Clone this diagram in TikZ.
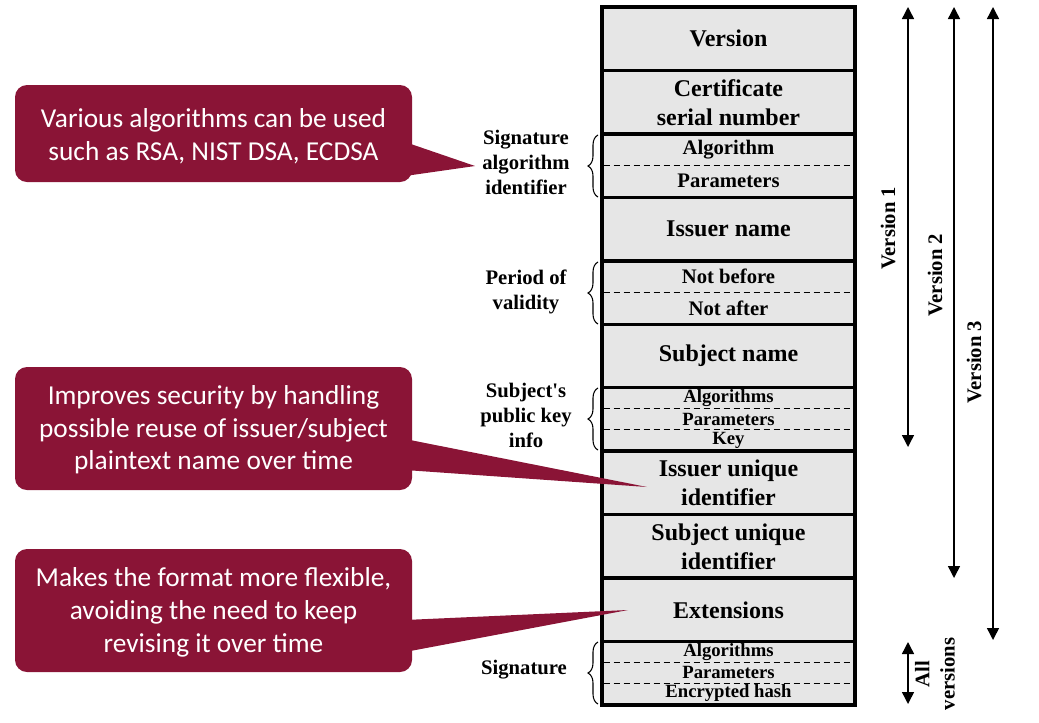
\documentclass[tikz,border=0pt]{standalone}
\usepackage{fontspec}
\setmainfont{Liberation Serif}
\newfontfamily\calloutfont{Carlito}
\usetikzlibrary{arrows.meta,decorations.pathreplacing}
\definecolor{tablegray}{RGB}{230,230,230}
\definecolor{calloutred}{RGB}{138,20,54}
\begin{document}
\begin{tikzpicture}[x=0.75pt,y=-0.75pt,
  rowbox/.style={draw, line width=2.6pt, fill=tablegray, minimum width=189.75pt, minimum height=47.6pt, inner sep=0pt, align=center, font=\bfseries\fontsize{18}{21.75}\selectfont},
  subtxt/.style={inner sep=0pt, font=\bfseries\fontsize{15.5}{17}\selectfont},
  smalltxt/.style={inner sep=0pt, font=\bfseries\fontsize{14}{15}\selectfont},
  sidelabel/.style={align=center, inner sep=0pt, font=\bfseries\fontsize{15.5}{18.75}\selectfont},
  sepline/.style={line width=0.8pt, dash pattern=on 4.5pt off 3pt},
  bracestyle/.style={decorate, decoration={brace, amplitude=7.5pt}, line width=0.8pt},
  callout/.style={fill=calloutred, rounded corners=9pt, minimum width=297.75pt, text=white, align=center, inner sep=0pt, font=\calloutfont\fontsize{20.5}{24.5}\selectfont},
  wedge/.style={fill=calloutred},
  verarrow/.style={{Triangle[length=9pt,width=9pt]}-{Triangle[length=9pt,width=9pt]}, line width=1.1pt},
  verlabel/.style={rotate=90, inner sep=0pt, align=center, font=\bfseries\fontsize{15.5}{19}\selectfont}
]
\useasboundingbox (0,0) rectangle (1039,722);

% table rows
\node[rowbox] (r1) at (728.5,38.7) {Version};
\node[rowbox] (r2) at (728.5,102.2) {Certificate\\serial number};
\node[rowbox] (r3) at (728.5,165.6) {};
\node[rowbox] (r4) at (728.5,229.1) {Issuer name};
\node[rowbox] (r5) at (728.5,292.5) {};
\node[rowbox] (r6) at (728.5,356.0) {Subject name};
\node[rowbox] (r7) at (728.5,419.4) {};
\node[rowbox] (r8) at (728.5,482.9) {Issuer unique\\identifier};
\node[rowbox] (r9) at (728.5,546.3) {Subject unique\\identifier};
\node[rowbox] (r10) at (728.5,609.8) {Extensions};
\node[rowbox] (r11) at (728.5,673.2) {};

% sub-rows
\draw[sepline] (603.5,165.6) -- (853.5,165.6);
\node[subtxt] (t3a) at (728.5,150) {Algorithm};
\node[subtxt] (t3b) at (728.5,181) {Parameters};

\draw[sepline] (603.5,292.5) -- (853.5,292.5);
\node[subtxt] (t5a) at (728.5,276) {Not before};
\node[subtxt] (t5b) at (728.5,308) {Not after};

\draw[sepline] (603.5,408.2) -- (853.5,408.2);
\draw[sepline] (603.5,429.4) -- (853.5,429.4);
\node[smalltxt] (t7a) at (728.5,398) {Algorithms};
\node[smalltxt] (t7b) at (728.5,419) {Parameters};
\node[smalltxt] (t7c) at (728.5,440) {Key};

\draw[sepline] (603.5,662.4) -- (853.5,662.4);
\node[smalltxt] (t11a) at (728.5,652) {Algorithms};
\node[smalltxt] (t11b) at (728.5,672) {Parameters};
\node[smalltxt] (t11c) at (728.5,693) {Encrypted hash};
\draw[sepline] (603.5,683.6) -- (853.5,683.6);

% side labels and braces
\node[sidelabel] (l3) at (526,162) {Signature\\algorithm\\identifier};
\draw[bracestyle] (598,197) -- (598,135);
\node[sidelabel] (l5) at (526,292) {Period of\\validity};
\draw[bracestyle] (598,324) -- (598,262);
\node[sidelabel] (l7) at (526,415) {Subject\textquotesingle s\\public key\\info};
\draw[bracestyle] (598,450) -- (598,388);
\node[sidelabel] (l11) at (524,670) {Signature};
\draw[bracestyle] (598,704) -- (598,642);

% version arrows
\coordinate (v1t) at (908,7);   \coordinate (v1b) at (908,447);
\coordinate (v2t) at (954,7);   \coordinate (v2b) at (954,578);
\coordinate (v3t) at (993,7);   \coordinate (v3b) at (993,640);
\coordinate (vat) at (908,642); \coordinate (vab) at (908,704);
\draw[verarrow] (v1t) -- (v1b);
\draw[verarrow] (v2t) -- (v2b);
\draw[verarrow] (v3t) -- (v3b);
\draw[verarrow] (vat) -- (vab);
\node[verlabel] (vl1) at (888,228) {Version 1};
\node[verlabel] (vl2) at (935,275) {Version 2};
\node[verlabel] (vl3) at (974,362) {Version 3};
\node[verlabel] (vla) at (935,674) {All\\versions};

% callouts
\fill[wedge] (405,142) -- (475,166) -- (405,176) -- cycle;
\node[callout, minimum height=72.75pt] (c1) at (213.5,133.5) {};
\node[callout, fill=none] (c1t) at (213.5,136) {Various algorithms can be used\\such as RSA, NIST DSA, ECDSA};
\fill[wedge] (405,439) -- (647,487) -- (405,470) -- cycle;
\node[callout, minimum height=92.25pt] (c2) at (213.5,428.5) {};
\node[callout, fill=none] (c2t) at (213.5,430) {Improves security by handling\\possible reuse of issuer/subject\\plaintext name over time};
\fill[wedge] (405,620) -- (628,610) -- (405,652) -- cycle;
\node[callout, minimum height=92.25pt] (c3) at (213.5,610.5) {};
\node[callout, fill=none] (c3t) at (213.5,612.5) {Makes the format more flexible,\\avoiding the need to keep\\revising it over time};
\end{tikzpicture}
\end{document}
